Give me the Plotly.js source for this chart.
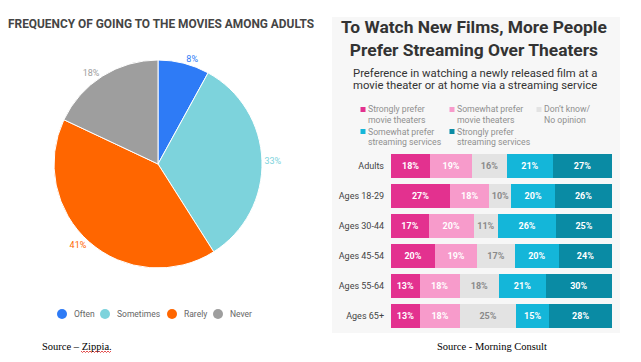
<!DOCTYPE html>
<html>
<head>
<meta charset="utf-8">
<script src="https://cdn.plot.ly/plotly-3.0.1.min.js"></script>
<style>
  html, body { margin: 0; padding: 0; background: #ffffff; }
  #chart { width: 641px; height: 362px; }
</style>
</head>
<body>
<div id="chart"></div>
<script>
// ---------- Data: left pie (Zippia) ----------
const pieLabels = ['Often', 'Sometimes', 'Rarely', 'Never'];
const pieValues = [8, 33, 41, 18];
const pieColors = ['#2e7bf6', '#7dd3dc', '#ff6600', '#9e9e9e'];

// ---------- Data: right stacked bars (Morning Consult) ----------
const groups = ['Adults', 'Ages 18-29', 'Ages 30-44', 'Ages 45-54', 'Ages 55-64', 'Ages 65+'];
const seriesNames = [
  ['Strongly prefer', 'movie theaters'],
  ['Somewhat prefer', 'movie theaters'],
  ['Don\u2019t know/', 'No opinion'],
  ['Somewhat prefer', 'streaming services'],
  ['Strongly prefer', 'streaming services']
];
const stronglyTheaters  = [18, 27, 17, 20, 13, 13];
const somewhatTheaters  = [19, 18, 20, 19, 18, 18];
const dontKnow          = [16, 10, 11, 17, 18, 25];
const somewhatStreaming = [21, 20, 26, 20, 21, 15];
const stronglyStreaming = [27, 26, 25, 24, 30, 28];
const seriesValues = [stronglyTheaters, somewhatTheaters, dontKnow, somewhatStreaming, stronglyStreaming];
const barColors = ['#e3318f', '#f79bcb', '#e3e3e3', '#14b6d9', '#0a8ba4'];
const barTextColors = ['#ffffff', '#ffffff', '#8a8a8a', '#ffffff', '#ffffff'];

// ---------- helpers for pixel -> paper ----------
const W = 641, H = 362;
const px = x => x / W;
const py = y => 1 - y / H;

const traces = [];

traces.push({
  type: 'pie',
  labels: pieLabels,
  values: pieValues,
  text: pieValues.map(v => v + '%'),
  textinfo: 'text',
  textposition: 'outside',
  outsidetextfont: { family: 'Roboto, sans-serif', size: 9, color: pieColors },
  marker: { colors: pieColors, line: { color: '#ffffff', width: 1 } },
  sort: false,
  direction: 'clockwise',
  rotation: 0,
  domain: { x: [px(54), px(262)], y: [py(268), py(60)] },
  showlegend: false,
  hoverinfo: 'none',
  automargin: false
});

seriesValues.forEach((vals, i) => {
  traces.push({
    type: 'bar',
    orientation: 'h',
    name: seriesNames[i].join(' '),
    y: groups,
    x: vals,
    text: vals.map(v => v + '%'),
    textposition: 'inside',
    insidetextanchor: 'middle',
    textangle: 0,
    constraintext: 'none',
    textfont: { family: 'Roboto, sans-serif', size: 9, color: barTextColors[i], weight: 'bold' },
    marker: { color: barColors[i], line: { width: 0 } },
    showlegend: false,
    hoverinfo: 'none'
  });
});

const annotations = [];
const shapes = [];

function txt(x, y, text, size, color, anchor, extra) {
  annotations.push(Object.assign({
    xref: 'paper', yref: 'paper', x: px(x), y: py(y),
    xanchor: anchor || 'left', yanchor: 'middle',
    text: text, showarrow: false, borderpad: 0,
    font: { family: 'Roboto, sans-serif', size: size, color: color }
  }, extra || {}));
}

// Right panel background
shapes.push({
  type: 'rect', xref: 'paper', yref: 'paper', layer: 'below',
  x0: px(332), x1: px(620), y0: py(333), y1: py(17),
  fillcolor: '#f7f7f7', line: { width: 0 }
});

// Left title
txt(7, 24, '<b>FREQUENCY OF GOING TO THE MOVIES AMONG ADULTS</b>', 11.9, '#454545');

// Right title and subtitle
txt(474, 38.5, '<b>To Watch New Films, More People<br>Prefer Streaming Over Theaters</b>', 17.4, '#333333', 'center');
txt(475, 73, 'Preference in watching a newly released film at a', 11.3, '#333333', 'center');
txt(475, 86, 'movie theater or at home via a streaming service', 11.3, '#333333', 'center');

// Pie legend (circles + text)
const pieLegX = [62, 105, 172, 218];
pieLabels.forEach((lab, i) => {
  const cx = pieLegX[i], cy = 314;
  shapes.push({
    type: 'circle', xref: 'paper', yref: 'paper',
    x0: px(cx - 5), x1: px(cx + 5), y0: py(cy + 5), y1: py(cy - 5),
    fillcolor: pieColors[i], line: { width: 0 }
  });
  txt(cx + 11, cy, lab, 8.5, '#666666');
});

// Bar legend (squares + two-line text)
const barLegPos = [[363, 109.5], [452, 109.5], [539, 109.5], [363, 131.5], [452, 131.5]];
seriesNames.forEach((nm, i) => {
  const [sx, sy] = barLegPos[i];
  shapes.push({
    type: 'rect', xref: 'paper', yref: 'paper',
    x0: px(sx - 2.5), x1: px(sx + 2.5), y0: py(sy + 2.5), y1: py(sy - 2.5),
    fillcolor: barColors[i], line: { width: 0 }
  });
  txt(sx + 4, sy, nm[0], 8.7, '#909090');
  txt(sx + 4, sy + 10.2, nm[1], 8.7, '#909090');
});

// Sources
txt(41, 346, 'Source \u2013 Zippia.', 10.5, '#000000', 'left',
  { font: { family: 'Liberation Serif, Times New Roman, serif', size: 10.5, color: '#000000' } });
txt(492, 346, 'Source - Morning Consult', 10.5, '#000000', 'center',
  { font: { family: 'Liberation Serif, Times New Roman, serif', size: 10.5, color: '#000000' } });

// spell-check squiggle under "Zippia"
(function () {
  let d = 'M ' + px(81) + ',' + py(351);
  for (let x = 81, k = 0; x < 111; x += 1.5, k++) {
    d += ' L ' + px(x + 1.5) + ',' + py(k % 2 ? 351 : 352.5);
  }
  shapes.push({ type: 'path', xref: 'paper', yref: 'paper', path: d, line: { color: '#d22', width: 0.8 } });
})();

const layout = {
  width: W, height: H,
  margin: { l: 0, r: 0, t: 0, b: 0 },
  paper_bgcolor: '#ffffff',
  plot_bgcolor: 'rgba(0,0,0,0)',
  showlegend: false,
  barmode: 'stack',
  barnorm: 'percent',
  bargap: 0.23,
  xaxis: {
    domain: [px(391), px(612)], range: [0, 100],
    visible: false, fixedrange: true
  },
  yaxis: {
    domain: [py(331), py(151)],
    autorange: 'reversed',
    showgrid: false, zeroline: false, showline: false, ticks: '',
    ticklabelstandoff: 6,
    tickfont: { family: 'Roboto, sans-serif', size: 9, color: '#444444' },
    fixedrange: true
  },
  annotations: annotations,
  shapes: shapes,
  font: { family: 'Roboto, sans-serif' }
};

Plotly.newPlot('chart', traces, layout, { displayModeBar: false, staticPlot: true });
</script>
</body>
</html>
